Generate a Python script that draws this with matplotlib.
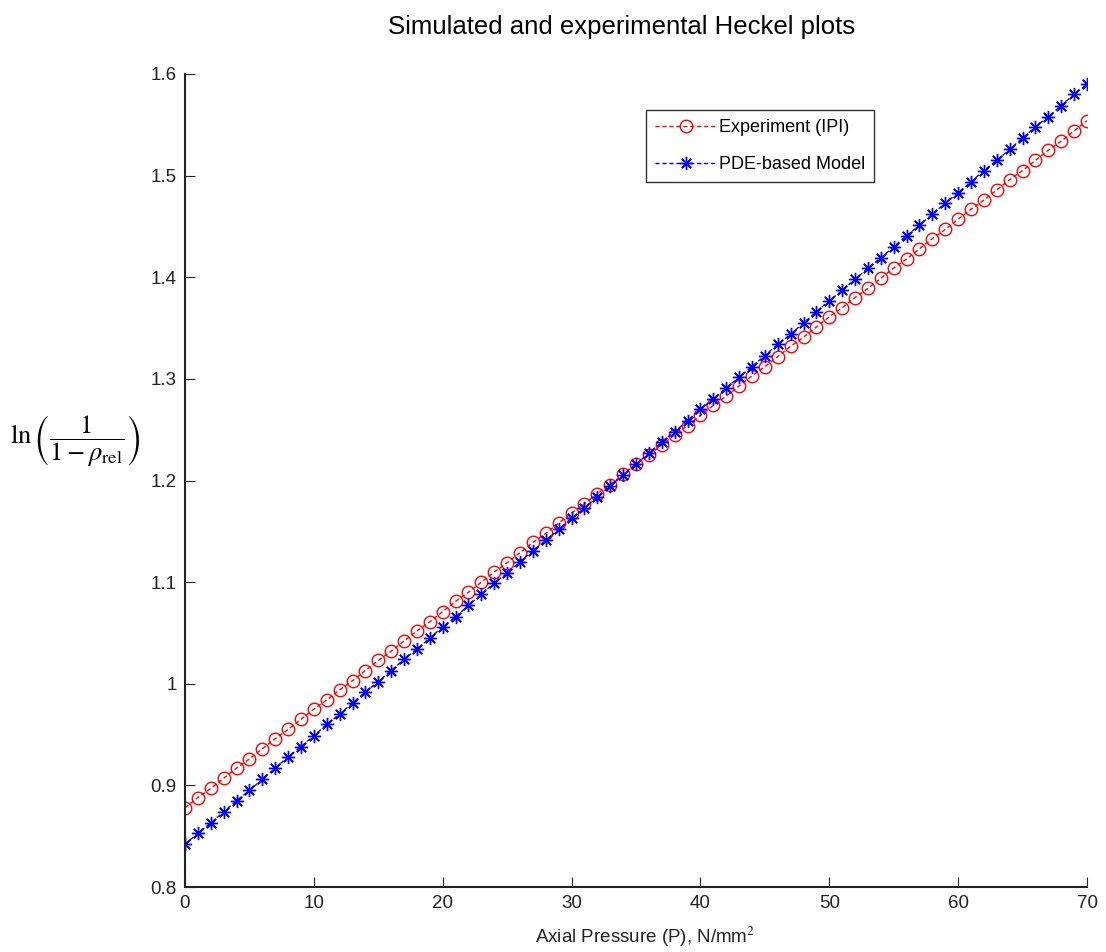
import matplotlib
matplotlib.use("Agg")
import matplotlib.pyplot as plt

pressure = list(range(0, 71))

experiment_ipi = [
    0.878, 0.888, 0.897, 0.907, 0.917, 0.926, 0.936, 0.946, 0.955, 0.965,
    0.975, 0.984, 0.994, 1.003, 1.013, 1.023, 1.032, 1.042, 1.052, 1.061,
    1.071, 1.081, 1.090, 1.100, 1.110, 1.119, 1.129, 1.139, 1.148, 1.158,
    1.168, 1.177, 1.187, 1.196, 1.206, 1.216, 1.225, 1.235, 1.245, 1.254,
    1.264, 1.274, 1.283, 1.293, 1.303, 1.312, 1.322, 1.332, 1.341, 1.351,
    1.361, 1.370, 1.380, 1.389, 1.399, 1.409, 1.418, 1.428, 1.438, 1.447,
    1.457, 1.467, 1.476, 1.486, 1.496, 1.505, 1.515, 1.525, 1.534, 1.544,
    1.554,
]

pde_model = [
    0.842, 0.853, 0.863, 0.874, 0.885, 0.895, 0.906, 0.917, 0.928, 0.938,
    0.949, 0.960, 0.970, 0.981, 0.992, 1.002, 1.013, 1.024, 1.034, 1.045,
    1.056, 1.066, 1.077, 1.088, 1.099, 1.109, 1.120, 1.131, 1.141, 1.152,
    1.163, 1.173, 1.184, 1.195, 1.205, 1.216, 1.227, 1.238, 1.248, 1.259,
    1.270, 1.280, 1.291, 1.302, 1.312, 1.323, 1.334, 1.344, 1.355, 1.366,
    1.377, 1.387, 1.398, 1.409, 1.419, 1.430, 1.441, 1.451, 1.462, 1.473,
    1.483, 1.494, 1.505, 1.515, 1.526, 1.537, 1.548, 1.558, 1.569, 1.580,
    1.590,
]

xticks = [0, 10, 20, 30, 40, 50, 60, 70]
yticks = [0.8, 0.9, 1.0, 1.1, 1.2, 1.3, 1.4, 1.5, 1.6]
ytick_labels = ["0.8", "0.9", "1", "1.1", "1.2", "1.3", "1.4", "1.5", "1.6"]

plt.rcParams["font.family"] = ["Liberation Sans", "DejaVu Sans"]
plt.rcParams["mathtext.fontset"] = "stix"

W, H = 1106, 952
fig = plt.figure(figsize=(W / 100, H / 100), dpi=100)
left, right, top, bottom = 185, 1087, 74, 887
ax = fig.add_axes([left / W, 1 - bottom / H, (right - left) / W, (bottom - top) / H])

ax.plot(pressure, experiment_ipi, color="red", linestyle=(0, (3, 2)), linewidth=1,
        marker="o", markersize=9, markerfacecolor="none", markeredgecolor="red",
        markeredgewidth=1, label="Experiment (IPI)")
ax.plot(pressure, pde_model, color="blue", linestyle=(0, (3, 2)), linewidth=1,
        marker=(8, 2, 0), markersize=9.5, markeredgecolor="blue",
        markeredgewidth=1, label="PDE-based Model")

ax.set_xlim(0, 70)
ax.set_ylim(0.8, 1.6)
ax.set_xticks(xticks)
ax.set_yticks(yticks)
ax.set_yticklabels(ytick_labels)
ax.tick_params(direction="in", length=7, labelsize=13.5, colors="#222222", pad=6)
for s in ["top", "right"]:
    ax.spines[s].set_visible(False)
for s in ["left", "bottom"]:
    ax.spines[s].set_linewidth(1.5)
    ax.spines[s].set_color("#222222")

leg = ax.legend(loc="upper left",
                bbox_to_anchor=((646 - left) / (right - left), 1 - (110 - top) / (bottom - top)),
                fontsize=13, frameon=True, fancybox=False, edgecolor="black",
                borderpad=0.5, handlelength=3.4, handletextpad=0.15, labelspacing=1.1,
                borderaxespad=0)
leg.get_frame().set_linewidth(1)

fig.text(622 / W, 1 - 27 / H, "Simulated and experimental Heckel plots",
         ha="center", va="center", fontsize=18.5, color="black")
fig.text(645 / W, 1 - 937 / H, "Axial Pressure (P), N/mm$^2$",
         ha="center", va="center", fontsize=13.5, color="#222222")
fig.text(75 / W, 1 - 440 / H, r"$\ln\left(\dfrac{1}{1-\rho_{\mathrm{rel}}}\right)$",
         ha="center", va="center", fontsize=19, color="black")

fig.savefig("out.png", dpi=100)
